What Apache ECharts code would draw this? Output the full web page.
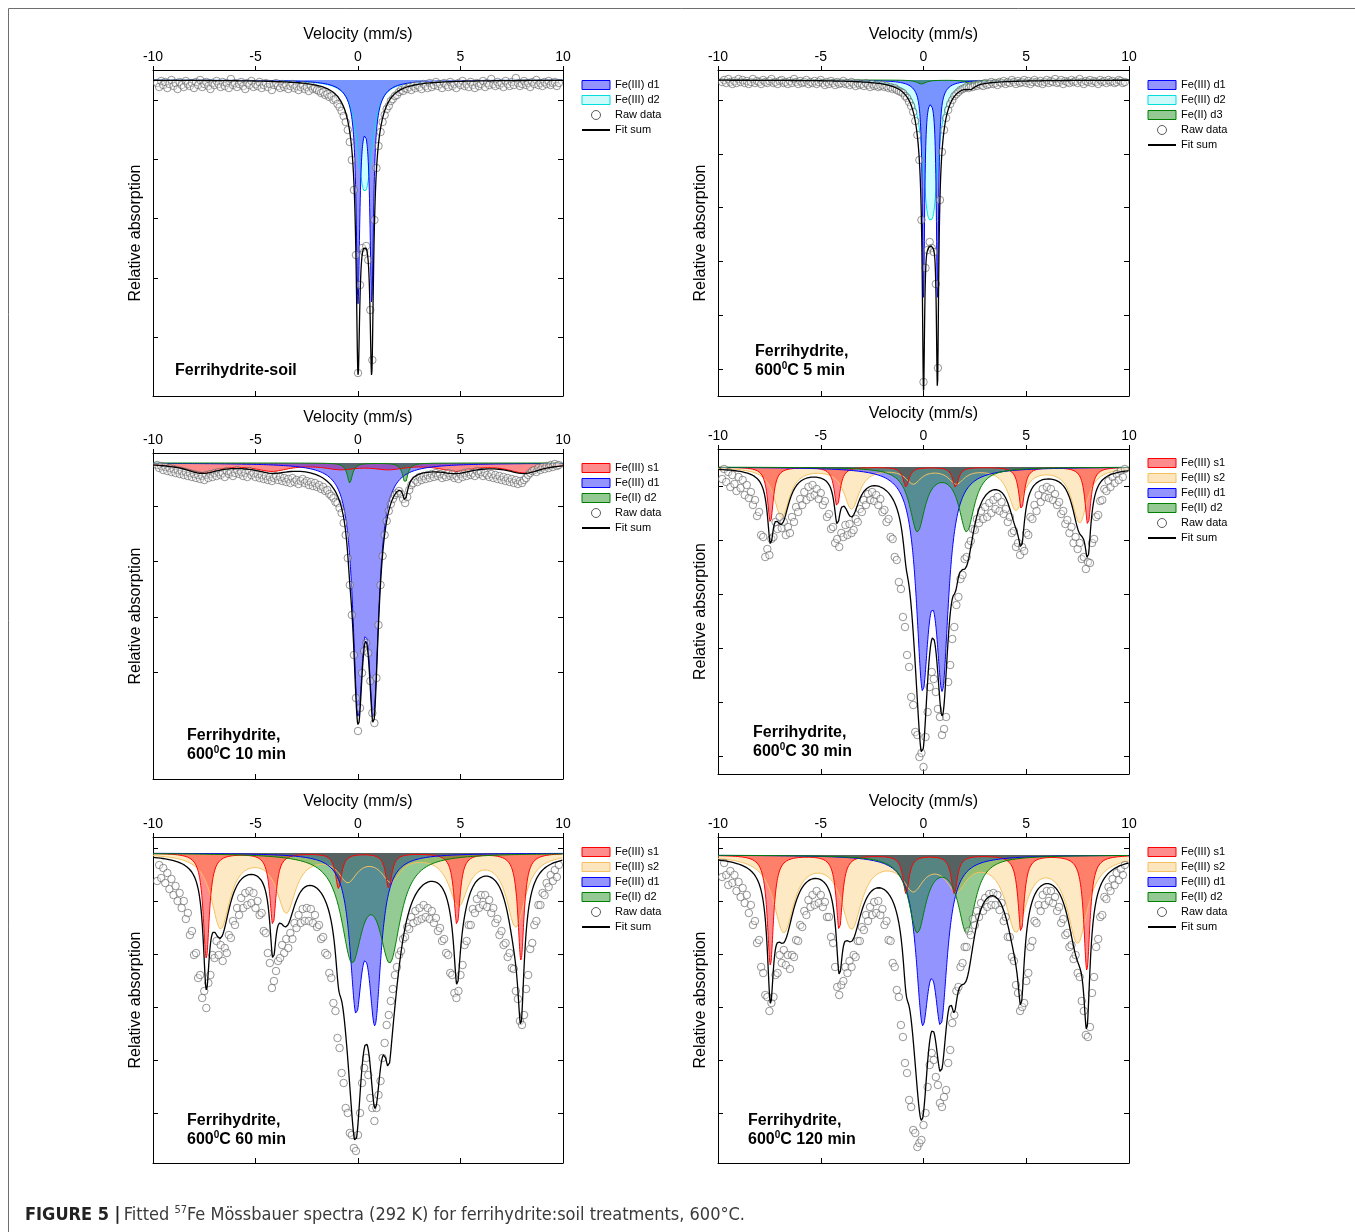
<!DOCTYPE html>
<html><head><meta charset="utf-8">
<script src="https://cdn.jsdelivr.net/npm/echarts@6/dist/echarts.min.js"></script>
<style>html,body{margin:0;padding:0;background:#fff}#chart{width:1355px;height:1232px}</style>
</head><body><div id="chart"></div>
<script>
// ---------- DATA ----------
const velocityTicks = [-10, -5, 0, 5, 10];
// raw data channel velocities (mm/s)
const velocity = [-9.8,-9.7,-9.6,-9.5,-9.4,-9.3,-9.2,-9.1,-9.0,-8.9,-8.8,-8.7,-8.6,-8.5,-8.4,-8.3,-8.2,-8.1,-8.0,-7.9,-7.8,-7.7,-7.6,-7.5,-7.4,-7.3,-7.2,-7.1,-7.0,-6.9,-6.8,-6.7,-6.6,-6.5,-6.4,-6.3,-6.2,-6.1,-6.0,-5.9,-5.8,-5.7,-5.6,-5.5,-5.4,-5.3,-5.2,-5.1,-5.0,-4.9,-4.8,-4.7,-4.6,-4.5,-4.4,-4.3,-4.2,-4.1,-4.0,-3.9,-3.8,-3.7,-3.6,-3.5,-3.4,-3.3,-3.2,-3.1,-3.0,-2.9,-2.8,-2.7,-2.6,-2.5,-2.4,-2.3,-2.2,-2.1,-2.0,-1.9,-1.8,-1.7,-1.6,-1.5,-1.4,-1.3,-1.2,-1.1,-1.0,-0.9,-0.8,-0.7,-0.6,-0.5,-0.4,-0.3,-0.2,-0.1,0.0,0.1,0.2,0.3,0.4,0.5,0.6,0.7,0.8,0.9,1.0,1.1,1.2,1.3,1.4,1.5,1.6,1.7,1.8,1.9,2.0,2.1,2.2,2.3,2.4,2.5,2.6,2.7,2.8,2.9,3.0,3.1,3.2,3.3,3.4,3.5,3.6,3.7,3.8,3.9,4.0,4.1,4.2,4.3,4.4,4.5,4.6,4.7,4.8,4.9,5.0,5.1,5.2,5.3,5.4,5.5,5.6,5.7,5.8,5.9,6.0,6.1,6.2,6.3,6.4,6.5,6.6,6.7,6.8,6.9,7.0,7.1,7.2,7.3,7.4,7.5,7.6,7.7,7.8,7.9,8.0,8.1,8.2,8.3,8.4,8.5,8.6,8.7,8.8,8.9,9.0,9.1,9.2,9.3,9.4,9.5,9.6,9.7,9.8];

// relative absorption of raw data (arbitrary units, 0 = component baseline)
const rawSoil = [0.03,0.07,0.01,0.05,0.02,0.08,0.04,0.00,0.06,0.03,0.09,0.02,0.05,0.07,0.01,0.04,0.06,0.03,0.08,0.02,0.05,0.00,0.07,0.04,0.02,0.06,0.09,0.03,0.05,0.01,0.04,0.07,0.02,0.06,0.03,0.08,-0.01,0.05,0.03,0.07,0.04,0.02,0.06,0.09,0.03,0.05,0.01,0.07,0.04,0.06,0.02,0.08,0.05,0.03,0.07,0.04,0.10,0.05,0.03,0.06,0.08,0.04,0.07,0.05,0.09,0.06,0.04,0.08,0.06,0.10,0.07,0.05,0.09,0.07,0.11,0.06,0.09,0.08,0.10,
  0.11,0.13,0.12,0.15,0.14,0.17,0.16,0.20,0.19,0.24,0.27,0.31,0.36,0.42,0.50,0.62,0.80,1.10,1.75,2.93,2.05,1.68,1.72,1.66,1.80,2.30,2.80,1.40,0.88,0.66,0.52,0.42,0.35,0.29,0.26,0.21,0.19,0.16,0.15,
  0.12,0.10,0.11,0.08,0.09,0.07,0.10,0.06,0.08,0.05,0.07,0.09,0.04,0.06,0.08,0.03,0.07,0.05,0.02,0.06,0.04,0.08,0.03,0.05,0.07,0.02,0.06,0.04,0.08,0.03,0.05,0.01,0.06,0.04,0.07,0.02,0.05,0.08,0.03,0.06,0.04,0.01,0.07,0.03,0.05,-0.01,0.04,0.06,0.02,0.05,0.03,0.07,0.01,0.04,0.06,0.02,0.05,-0.02,0.03,0.06,0.04,0.01,0.05,0.03,0.07,0.02,0.04,0.00,0.05,0.03,0.06,0.02,0.04,0.01,0.05,0.03,0.02,0.06,0.03];
const raw5min = [0.02,0.00,0.03,-0.01,0.02,0.04,0.01,0.03,-0.01,0.02,0.00,0.03,0.01,0.04,0.02,-0.01,0.03,0.01,0.02,0.04,0.00,0.02,0.03,0.01,-0.01,0.03,0.02,0.04,0.01,0.00,0.03,0.02,0.04,0.01,0.03,-0.01,0.02,0.04,0.01,0.03,0.02,0.00,0.04,0.02,0.03,0.01,0.04,0.02,0.00,0.03,0.05,0.02,0.04,0.01,0.03,0.05,0.02,0.04,0.03,0.01,0.04,0.03,0.05,0.02,0.04,0.06,0.03,0.05,0.04,0.06,0.03,0.05,0.07,0.04,0.06,0.05,0.07,0.06,0.05,
  0.07,0.06,0.08,0.07,0.09,0.08,0.10,0.11,0.12,0.13,0.16,0.18,0.22,0.26,0.32,0.41,0.55,0.80,1.40,3.02,1.88,1.70,1.62,1.68,1.72,2.04,2.88,1.20,0.72,0.50,0.38,0.30,0.24,0.20,0.16,0.14,0.12,0.10,0.09,
  0.08,0.07,0.08,0.06,0.07,0.05,0.06,0.04,0.05,0.06,0.03,0.05,0.04,0.02,0.04,0.03,0.05,0.02,0.03,0.01,0.04,0.02,0.03,0.00,0.02,0.04,0.01,0.03,0.02,0.00,0.03,0.01,0.04,0.02,0.00,0.02,0.03,0.01,0.04,0.02,0.00,0.03,0.01,0.02,-0.01,0.03,0.02,0.00,0.04,0.01,0.02,0.03,0.00,0.02,0.01,0.03,-0.01,0.02,0.04,0.01,0.02,0.00,0.03,0.01,0.02,0.04,0.00,0.02,0.01,0.03,0.00,0.02,0.01,0.03,0.02,0.00,0.01,0.03,0.02];
const raw10min = [0.02,0.05,0.03,0.07,0.04,0.08,0.05,0.09,0.06,0.10,0.07,0.11,0.08,0.12,0.09,0.13,0.10,0.14,0.11,0.15,0.12,0.16,0.13,0.17,0.12,0.15,0.11,0.14,0.10,0.13,0.09,0.12,0.10,0.14,0.08,0.11,0.09,0.13,0.10,0.07,0.11,0.09,0.13,0.10,0.14,0.08,0.12,0.10,0.14,0.11,0.15,0.12,0.16,0.13,0.17,0.14,0.18,0.15,0.13,0.17,0.14,0.18,0.15,0.19,0.16,0.20,0.15,0.19,0.17,0.21,0.18,0.16,0.20,0.18,0.22,0.19,0.23,0.20,0.24,
  0.22,0.26,0.24,0.28,0.27,0.31,0.33,0.35,0.39,0.40,0.45,0.50,0.60,0.72,0.95,1.22,1.52,1.92,2.35,2.68,2.45,2.10,1.88,1.80,1.90,2.18,2.50,2.60,2.15,1.62,1.22,0.93,0.72,0.58,0.48,0.41,0.36,0.32,0.30,
  0.28,0.31,0.36,0.40,0.34,0.27,0.22,0.20,0.17,0.19,0.14,0.17,0.13,0.16,0.12,0.15,0.11,0.14,0.10,0.13,0.11,0.15,0.12,0.14,0.10,0.13,0.11,0.15,0.13,0.16,0.11,0.14,0.10,0.13,0.09,0.12,0.10,0.13,0.08,0.11,0.09,0.13,0.10,0.12,0.14,0.11,0.15,0.12,0.16,0.13,0.17,0.14,0.18,0.15,0.19,0.16,0.20,0.17,0.21,0.18,0.20,0.17,0.15,0.12,0.10,0.08,0.07,0.09,0.05,0.07,0.04,0.06,0.03,0.05,0.02,0.04,0.01,0.03,0.02];
const raw30min = [0.12,0.02,0.15,0.05,0.20,0.08,0.17,0.24,0.10,0.21,0.13,0.28,0.18,0.31,0.25,0.38,0.33,0.49,0.45,0.68,0.70,0.90,0.82,0.88,0.72,0.70,0.55,0.62,0.50,0.61,0.55,0.68,0.60,0.66,0.50,0.55,0.40,0.45,0.32,0.38,0.25,0.33,0.20,0.30,0.18,0.28,0.22,0.32,0.26,0.38,0.34,0.50,0.47,0.62,0.60,0.76,0.72,0.80,0.66,0.70,0.58,0.68,0.57,0.66,0.63,0.52,0.55,0.42,0.45,0.33,0.38,0.27,0.33,0.25,0.34,0.28,0.38,0.32,0.45,
  0.43,0.55,0.52,0.70,0.72,0.90,0.93,1.15,1.22,1.50,1.60,1.88,2.00,2.30,2.38,2.65,2.68,2.90,2.86,3.00,2.70,2.45,2.20,2.05,2.12,2.25,2.42,2.50,2.68,2.62,2.50,2.15,1.98,1.72,1.60,1.38,1.30,1.12,1.08,
  0.92,0.90,0.78,0.74,0.62,0.63,0.52,0.56,0.44,0.52,0.40,0.50,0.36,0.46,0.33,0.42,0.30,0.44,0.35,0.47,0.42,0.55,0.50,0.66,0.64,0.80,0.76,0.88,0.80,0.84,0.66,0.68,0.50,0.52,0.38,0.44,0.28,0.35,0.22,0.30,0.20,0.31,0.22,0.33,0.27,0.38,0.35,0.47,0.44,0.57,0.53,0.66,0.60,0.76,0.70,0.82,0.76,0.92,0.90,1.02,0.95,0.96,0.76,0.72,0.50,0.48,0.34,0.33,0.22,0.24,0.14,0.20,0.10,0.16,0.07,0.13,0.04,0.10,0.02];
const raw60min = [0.28,0.12,0.25,0.15,0.30,0.20,0.36,0.26,0.42,0.33,0.48,0.40,0.55,0.48,0.66,0.60,0.82,0.78,1.02,1.00,1.25,1.22,1.45,1.38,1.55,1.30,1.22,1.02,1.05,0.88,1.02,0.92,1.08,0.95,1.00,0.82,0.85,0.68,0.72,0.55,0.62,0.45,0.55,0.40,0.52,0.38,0.50,0.40,0.55,0.48,0.62,0.60,0.78,0.80,1.00,1.10,1.35,1.28,1.18,1.08,1.05,0.92,1.00,0.86,0.95,0.80,0.86,0.70,0.75,0.62,0.70,0.56,0.68,0.55,0.68,0.56,0.70,0.62,0.74,
  0.72,0.86,0.84,1.00,1.02,1.20,1.25,1.50,1.58,1.85,1.95,2.20,2.30,2.55,2.60,2.80,2.82,2.95,2.98,2.82,2.60,2.30,2.15,2.05,2.22,2.45,2.55,2.68,2.55,2.42,2.28,2.05,1.90,1.72,1.62,1.48,1.36,1.22,1.14,
  1.02,0.98,0.86,0.84,0.74,0.76,0.64,0.70,0.58,0.68,0.55,0.66,0.52,0.64,0.55,0.66,0.58,0.70,0.65,0.78,0.75,0.88,0.86,1.00,1.02,1.20,1.22,1.40,1.45,1.38,1.22,1.12,0.92,0.88,0.72,0.72,0.56,0.60,0.46,0.55,0.42,0.52,0.42,0.54,0.47,0.60,0.55,0.70,0.66,0.82,0.78,0.92,0.90,1.04,1.00,1.15,1.16,1.38,1.46,1.68,1.72,1.62,1.36,1.22,0.96,0.90,0.72,0.68,0.52,0.52,0.40,0.42,0.30,0.34,0.22,0.28,0.17,0.24,0.12];
const raw120min = [0.22,0.08,0.20,0.30,0.16,0.28,0.20,0.36,0.27,0.42,0.33,0.48,0.40,0.58,0.50,0.70,0.66,0.88,0.85,1.12,1.18,1.40,1.42,1.56,1.48,1.42,1.20,1.18,1.00,1.08,0.95,1.10,1.00,1.14,1.00,1.02,0.85,0.86,0.70,0.72,0.56,0.60,0.45,0.52,0.40,0.50,0.36,0.48,0.40,0.52,0.47,0.62,0.62,0.82,0.88,1.12,1.32,1.40,1.30,1.26,1.12,1.18,1.06,1.12,1.00,1.02,0.86,0.86,0.72,0.75,0.60,0.66,0.52,0.60,0.47,0.58,0.46,0.60,0.54,
  0.70,0.66,0.85,0.86,1.08,1.12,1.35,1.42,1.70,1.82,2.08,2.18,2.45,2.52,2.75,2.78,2.92,2.88,2.85,2.70,2.58,2.32,2.10,1.98,2.05,2.22,2.30,2.48,2.52,2.42,2.35,2.08,1.95,1.68,1.60,1.36,1.32,1.12,1.08,
  0.92,0.92,0.76,0.80,0.64,0.70,0.56,0.62,0.48,0.56,0.43,0.52,0.39,0.50,0.38,0.50,0.40,0.55,0.48,0.66,0.62,0.82,0.82,1.02,1.06,1.30,1.38,1.56,1.52,1.48,1.26,1.18,0.92,0.86,0.66,0.68,0.50,0.56,0.40,0.50,0.36,0.46,0.36,0.48,0.42,0.56,0.52,0.68,0.64,0.80,0.78,0.92,0.90,1.04,1.00,1.18,1.22,1.46,1.56,1.80,1.82,1.72,1.38,1.22,0.92,0.84,0.62,0.60,0.42,0.44,0.32,0.36,0.24,0.30,0.18,0.25,0.14,0.20,0.10];

// fitted Lorentzian lines: [position (mm/s), depth, half width (mm/s)]
const soilD1 = [[0.0, 1.97, 0.1], [0.67, 1.97, 0.1], [0.0, 0.16, 0.55], [0.67, 0.16, 0.55]];
const soilD2 = [[0.2, 0.64, 0.35], [0.47, 0.64, 0.35]];
const m5D1 = [[0.0, 2.05, 0.065], [0.68, 2.05, 0.065], [0.0, 0.08, 0.45], [0.68, 0.08, 0.45]];
const m5D2 = [[0.18, 0.9, 0.3], [0.5, 0.9, 0.3]];
const m5D3 = [[-0.1, 0.04, 0.25], [2.3, 0.04, 0.25]];
const m10S1 = [[-7.6, 0.09, 1.0], [-4.2, 0.07, 1.0], [-0.85, 0.05, 1.0], [1.5, 0.05, 1.0], [4.8, 0.07, 1.0], [8.1, 0.09, 1.0]];
const m10D1 = [[0.0, 2.24, 0.3], [0.76, 2.24, 0.3]];
const m10D2 = [[-0.4, 0.2, 0.15], [2.3, 0.2, 0.15]];
const m30S1 = [[-7.45, 0.55, 0.17], [-4.2, 0.40, 0.17], [-0.85, 0.20, 0.17], [1.56, 0.20, 0.17], [4.77, 0.42, 0.17], [8.0, 0.58, 0.17]];
const m30S2 = [[-6.9, 0.50, 0.45], [-3.5, 0.41, 0.45], [-0.5, 0.15, 0.45], [1.6, 0.15, 0.45], [4.5, 0.42, 0.45], [7.6, 0.55, 0.45]];
const m30D1 = [[-0.05, 2.0, 0.36], [0.92, 2.0, 0.36]];
const m30D2 = [[-0.3, 0.63, 0.45], [2.1, 0.63, 0.45]];
const m60S1 = [[-7.4, 1.05, 0.18], [-4.15, 0.72, 0.18], [-0.95, 0.35, 0.18], [1.5, 0.35, 0.18], [4.83, 0.72, 0.18], [7.95, 1.07, 0.18]];
const m60S2 = [[-6.7, 0.74, 0.55], [-3.5, 0.57, 0.55], [-0.5, 0.25, 0.55], [1.6, 0.25, 0.55], [4.9, 0.50, 0.55], [7.7, 0.72, 0.55]];
const m60D1 = [[-0.1, 1.42, 0.35], [0.83, 1.55, 0.35]];
const m60D2 = [[-0.3, 1.0, 0.62], [1.56, 1.0, 0.62]];
const m120S1 = [[-7.45, 1.10, 0.18], [-4.1, 0.75, 0.18], [-0.85, 0.38, 0.18], [1.5, 0.38, 0.18], [4.75, 0.77, 0.18], [7.95, 1.15, 0.18]];
const m120S2 = [[-6.8, 0.75, 0.6], [-3.5, 0.70, 0.6], [-0.5, 0.30, 0.6], [1.6, 0.30, 0.6], [4.5, 0.72, 0.6], [7.5, 0.85, 0.6]];
const m120D1 = [[-0.05, 1.48, 0.38], [0.85, 1.48, 0.38]];
const m120D2 = [[-0.3, 0.75, 0.5], [2.1, 0.75, 0.5]];

// y-axis tick positions (same arbitrary absorption units)
const ticksSoil = [0.20, 0.79, 1.38, 1.98, 2.57];
const ticks5min = [0.20, 0.74, 1.27, 1.81, 2.35, 2.89];
const ticks10min = [0.43, 0.98, 1.54, 2.09];
const ticks30min = [0.19, 0.73, 1.27, 1.81, 2.35, 2.89];
const ticks60min = [-0.05, 0.48, 1.01, 1.54, 2.07, 2.60];
const ticks120min = [-0.07, 0.46, 0.99, 1.52, 2.05, 2.58];

// ---------- STYLE ----------
const FONT = "'Liberation Sans', Arial, Helvetica, sans-serif";
const NARROW = "'Liberation Sans Narrow', 'DejaVu Sans Condensed', 'Arial Narrow', sans-serif";
const compStyle = {
  'Fe(III) s1': {line: '#ff0000', fill: 'rgba(255,0,0,0.45)', swatch: '#ff8c8c'},
  'Fe(III) s2': {line: '#f5c060', fill: 'rgba(250,200,100,0.38)', swatch: '#fde6bd'},
  'Fe(III) d1': {line: '#0000ff', fill: 'rgba(0,0,255,0.42)', swatch: '#9494ff'},
  'Fe(III) d2': {line: '#00dede', fill: 'rgba(0,255,255,0.2)', swatch: '#ccfafa'},
  'Fe(II) d2': {line: '#008000', fill: 'rgba(0,128,0,0.42)', swatch: '#94c994'},
  'Fe(II) d3': {line: '#008000', fill: 'rgba(0,128,0,0.42)', swatch: '#94c994'}
};

const panels = [
  {grid: {left: 153, top: 70, width: 410, height: 326}, y: [-0.10, 3.16], ticks: ticksSoil, raw: rawSoil,
   comps: [['Fe(III) d2', soilD2], ['Fe(III) d1', soilD1]], legend: ['Fe(III) d1', 'Fe(III) d2'], legendPos: [581, 78.5],
   label: [['Ferrihydrite-soil']], labelPos: [175, 371]},
  {grid: {left: 718, top: 70, width: 411, height: 326}, y: [-0.10, 3.16], ticks: ticks5min, raw: raw5min,
   comps: [['Fe(III) d2', m5D2], ['Fe(III) d1', m5D1], ['Fe(II) d3', m5D3]], legend: ['Fe(III) d1', 'Fe(III) d2', 'Fe(II) d3'], legendPos: [1147, 78.5],
   label: [['Ferrihydrite,'], ['600', '0', 'C 5 min']], labelPos: [755, 352]},
  {grid: {left: 153, top: 453, width: 410, height: 326}, y: [-0.10, 3.16], ticks: ticks10min, raw: raw10min,
   comps: [['Fe(III) s1', m10S1], ['Fe(III) d1', m10D1], ['Fe(II) d2', m10D2]], legend: ['Fe(III) s1', 'Fe(III) d1', 'Fe(II) d2'], legendPos: [581, 461.5],
   label: [['Ferrihydrite,'], ['600', '0', 'C 10 min']], labelPos: [187, 736]},
  {grid: {left: 718, top: 449, width: 411, height: 325}, y: [-0.18, 3.07], ticks: ticks30min, raw: raw30min,
   comps: [['Fe(III) s2', m30S2], ['Fe(III) s1', m30S1], ['Fe(III) d1', m30D1], ['Fe(II) d2', m30D2]], legend: ['Fe(III) s1', 'Fe(III) s2', 'Fe(III) d1', 'Fe(II) d2'], legendPos: [1147, 456.5],
   label: [['Ferrihydrite,'], ['600', '0', 'C 30 min']], labelPos: [753, 733]},
  {grid: {left: 153, top: 837, width: 410, height: 326}, y: [-0.16, 3.10], ticks: ticks60min, raw: raw60min,
   comps: [['Fe(III) s2', m60S2], ['Fe(III) s1', m60S1], ['Fe(III) d1', m60D1], ['Fe(II) d2', m60D2]], legend: ['Fe(III) s1', 'Fe(III) s2', 'Fe(III) d1', 'Fe(II) d2'], legendPos: [581, 845.5],
   label: [['Ferrihydrite,'], ['600', '0', 'C 60 min']], labelPos: [187, 1121]},
  {grid: {left: 718, top: 837, width: 411, height: 326}, y: [-0.18, 3.08], ticks: ticks120min, raw: raw120min,
   comps: [['Fe(III) s2', m120S2], ['Fe(III) s1', m120S1], ['Fe(III) d1', m120D1], ['Fe(II) d2', m120D2]], legend: ['Fe(III) s1', 'Fe(III) s2', 'Fe(III) d1', 'Fe(II) d2'], legendPos: [1147, 845.5],
   label: [['Ferrihydrite,'], ['600', '0', 'C 120 min']], labelPos: [748, 1121]}
];

// sampling grid for drawing the fitted curves
const curveV = [];
for (let i = 0; i <= 2000; i++) curveV.push(Math.round((-10 + i * 0.01) * 100) / 100);
function lorentz(lines, v) {
  let s = 0;
  for (const [p, d, g] of lines) s += d * g * g / ((v - p) * (v - p) + g * g);
  return s;
}

const option = {animation: false, grid: [], xAxis: [], yAxis: [], series: [], legend: [], graphic: []};
const axisLineStyle = {color: '#000', width: 1};

panels.forEach((p, k) => {
  option.grid.push(Object.assign({containLabel: false}, p.grid));
  option.xAxis.push({type: 'value', gridIndex: k, position: 'top', min: -10, max: 10, interval: 5,
    name: 'Velocity (mm/s)', nameLocation: 'middle', nameGap: 27,
    nameTextStyle: {fontSize: 16, color: '#000', fontFamily: FONT},
    axisLine: {onZero: false, lineStyle: axisLineStyle},
    axisTick: {inside: false, length: 4, lineStyle: axisLineStyle},
    axisLabel: {fontSize: 14, color: '#000', margin: 6, fontFamily: FONT, customValues: velocityTicks},
    splitLine: {show: false}});
  option.xAxis.push({type: 'value', gridIndex: k, position: 'bottom', min: -10, max: 10, interval: 5,
    axisLine: {onZero: false, lineStyle: axisLineStyle},
    axisTick: {inside: true, length: 5, lineStyle: axisLineStyle},
    axisLabel: {show: false}, splitLine: {show: false}});
  option.yAxis.push({type: 'value', gridIndex: k, position: 'left', inverse: true, min: p.y[0], max: p.y[1],
    name: 'Relative absorption', nameLocation: 'middle', nameGap: 9,
    nameTextStyle: {fontSize: 16, color: '#000', fontFamily: FONT},
    axisLine: {show: true, onZero: false, lineStyle: axisLineStyle},
    axisTick: {show: true, inside: true, length: 5, lineStyle: axisLineStyle, customValues: p.ticks},
    axisLabel: {show: false}, splitLine: {show: false}});
  option.yAxis.push({type: 'value', gridIndex: k, position: 'right', inverse: true, min: p.y[0], max: p.y[1],
    axisLine: {show: true, onZero: false, lineStyle: axisLineStyle},
    axisTick: {show: true, inside: true, length: 5, lineStyle: axisLineStyle, customValues: p.ticks},
    axisLabel: {show: false}, splitLine: {show: false}});
  const xi = 2 * k, yi = 2 * k;
  const fit = curveV.map(v => 0);
  p.comps.forEach(([name, lines]) => {
    const st = compStyle[name];
    const data = curveV.map((v, i) => { const a = lorentz(lines, v); fit[i] += a; return [v, a]; });
    option.series.push({type: 'line', name, xAxisIndex: xi, yAxisIndex: yi, data, symbol: 'none', showSymbol: false,
      lineStyle: {color: st.line, width: 1}, itemStyle: {color: st.line}, areaStyle: {color: st.fill, opacity: 1},
      silent: true, z: 2});
  });
  const pts = [];
  velocity.forEach((v, i) => { if (p.raw[i] !== undefined) pts.push([v, p.raw[i]]); });
  option.series.push({type: 'scatter', name: 'Raw data', xAxisIndex: xi, yAxisIndex: yi,
    data: pts, symbol: 'circle', symbolSize: 7.5,
    itemStyle: {color: 'rgba(255,255,255,0.45)', borderColor: '#5a5a5a', borderWidth: 0.8}, silent: true, z: 3});
  option.series.push({type: 'line', name: 'Fit sum', xAxisIndex: xi, yAxisIndex: yi,
    data: curveV.map((v, i) => [v, fit[i]]), symbol: 'none', showSymbol: false,
    lineStyle: {color: '#000', width: 1.3}, itemStyle: {color: '#000'}, silent: true, z: 4});

  const ldata = p.legend.map(n => ({name: n, icon: 'rect',
    itemStyle: {color: compStyle[n].swatch, borderColor: compStyle[n].line, borderWidth: 1}}));
  ldata.push({name: 'Raw data', icon: 'circle', itemStyle: {color: '#fff', borderColor: '#333', borderWidth: 1}});
  ldata.push({name: 'Fit sum', itemStyle: {opacity: 0}});
  option.legend.push({orient: 'vertical', left: p.legendPos[0], top: p.legendPos[1], itemWidth: 28, itemHeight: 9,
    itemGap: 2, padding: 0, selectedMode: false,
    textStyle: {fontSize: 11, color: '#000', fontFamily: FONT, lineHeight: 13}, data: ldata});

  // panel labels
  p.label.forEach((parts, j) => {
    const y = p.labelPos[1] + j * 19;
    let text;
    if (parts.length === 1) { text = '{n|' + parts[0] + '}'; }
    else { text = '{n|' + parts[0] + '}{s|' + parts[1] + '}{n|' + parts[2] + '}'; }
    const rich = {n: {font: 'bold 16px ' + FONT, fill: '#000'}, s: {font: 'bold 10px ' + FONT, fill: '#000', padding: [0, 0, 9, 0]}};
    option.graphic.push({type: 'text', x: p.labelPos[0], y, silent: true,
      style: {text, rich, verticalAlign: 'middle', align: 'left'}});
  });
});

// frame + caption
option.graphic.push({type: 'line', silent: true, shape: {x1: 8.5, y1: 8.5, x2: 1355, y2: 8.5}, style: {stroke: '#6e6e6e', lineWidth: 1}});
option.graphic.push({type: 'line', silent: true, shape: {x1: 8.5, y1: 8.5, x2: 8.5, y2: 1232}, style: {stroke: '#6e6e6e', lineWidth: 1}});
option.graphic.push({type: 'text', x: 25, y: 1215, silent: true, style: {
  text: '{b|FIGURE 5 |} {n|Fitted }{s|57}{n|Fe Mössbauer spectra (292 K) for ferrihydrite:soil treatments, 600°C.}',
  verticalAlign: 'middle', align: 'left',
  rich: {b: {font: 'bold 18px ' + NARROW, fill: '#222'}, n: {font: '18px ' + NARROW, fill: '#3a3a3a'},
         s: {font: '11px ' + NARROW, fill: '#3a3a3a', padding: [0, 0, 10, 0]}}}});

const chart = echarts.init(document.getElementById('chart'), null, {renderer: 'canvas'});
chart.setOption(option);
</script></body></html>
